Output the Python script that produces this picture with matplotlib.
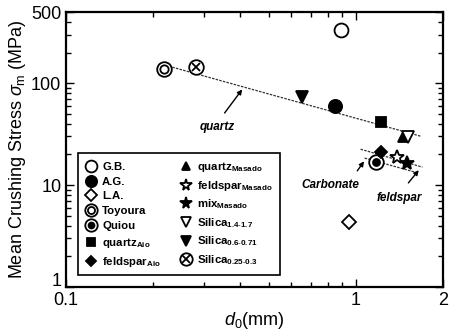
import matplotlib.pyplot as plt
import matplotlib.transforms as mtransforms
from matplotlib.legend_handler import HandlerTuple

plt.rcParams["font.family"] = ["Liberation Sans", "DejaVu Sans"]
plt.rcParams["mathtext.fontset"] = "custom"
plt.rcParams["mathtext.rm"] = "Liberation Sans"
plt.rcParams["mathtext.it"] = "Liberation Sans:italic"
plt.rcParams["mathtext.bf"] = "Liberation Sans:bold"

# данные: d0 (мм), sigma_m (МПа)
gb_d, gb_s = [0.89], [330]
ag_d, ag_s = [0.846], [59.5]
la_d, la_s = [0.946], [4.3]
toyoura_d, toyoura_s = [0.218], [137]
quiou_d, quiou_s = [1.18], [16.8]
quartz_aio_d, quartz_aio_s = [1.22], [41.5]
feldspar_aio_d, feldspar_aio_s = [1.22], [21]
quartz_masado_d, quartz_masado_s = [1.46], [29.5]
feldspar_masado_d, feldspar_masado_s = [1.385], [18.8]
mix_masado_d, mix_masado_s = [1.50], [16.4]
silica_14_d, silica_14_s = [1.52], [29.8]
silica_06_d, silica_06_s = [0.651], [72.9]
silica_025_d, silica_025_s = [0.281], [143]

# линии трендов
quartz_line_d, quartz_line_s = [0.226, 1.675], [147, 30.2]
upper_line_d, upper_line_s = [1.04, 1.70], [22.5, 15.0]
lower_line_d, lower_line_s = [1.074, 1.65], [18.4, 13.1]

fig = plt.figure(figsize=(4.5, 3.34), dpi=100)
ax = fig.add_axes([0.147, 0.141, 0.837, 0.823])
ax.set_xscale("log")
ax.set_yscale("log")

dash = (0, (2, 1))
ax.plot(quartz_line_d, quartz_line_s, color="0.2", lw=0.9, linestyle=dash)
ax.plot(upper_line_d, upper_line_s, color="0.2", lw=0.9, linestyle=dash)
ax.plot(lower_line_d, lower_line_s, color="0.2", lw=0.9, linestyle=dash)

kw = dict(linestyle="none", color="black", markeredgewidth=1.3)
open_kw = dict(kw, markerfacecolor="white")

h_gb = ax.plot(gb_d, gb_s, "o", ms=10, **open_kw)[0]
h_ag = ax.plot(ag_d, ag_s, "o", ms=9.5, **kw)[0]
h_la = ax.plot(la_d, la_s, "D", ms=7, **open_kw)[0]
t1 = ax.plot(toyoura_d, toyoura_s, "o", ms=10.5, **open_kw)[0]
t2 = ax.plot(toyoura_d, toyoura_s, "o", ms=6, **open_kw)[0]
q1 = ax.plot(quiou_d, quiou_s, "o", ms=10.5, **open_kw)[0]
q2 = ax.plot(quiou_d, quiou_s, "o", ms=5, **kw)[0]
h_qa = ax.plot(quartz_aio_d, quartz_aio_s, "s", ms=7, **kw)[0]
h_fa = ax.plot(feldspar_aio_d, feldspar_aio_s, "D", ms=6.5, **kw)[0]
h_qm = ax.plot(quartz_masado_d, quartz_masado_s, "^", ms=7, **kw)[0]
h_fm = ax.plot(feldspar_masado_d, feldspar_masado_s, "*", ms=10, **open_kw)[0]
h_mix = ax.plot(mix_masado_d, mix_masado_s, "*", ms=10, **kw)[0]
h_s14 = ax.plot(silica_14_d, silica_14_s, "v", ms=8.5, **open_kw)[0]
h_s06 = ax.plot(silica_06_d, silica_06_s, "v", ms=8.5, **kw)[0]
s1 = ax.plot(silica_025_d, silica_025_s, "o", ms=10.5, **open_kw)[0]
s2 = ax.plot(silica_025_d, silica_025_s, "x", ms=6, **kw)[0]

# подписи со стрелками
arrow = dict(arrowstyle="-|>", lw=1.0, color="black", mutation_scale=7)
ax.annotate("", xy=(0.411, 91.4), xytext=(0.348, 48.5), arrowprops=arrow)
ax.text(0.332, 37, "quartz", style="italic", weight="bold", fontsize=8.5,
        ha="center", va="center")
ax.annotate("", xy=(1.083, 18.0), xytext=(1.0, 13.1), arrowprops=arrow)
ax.text(0.82, 10, "Carbonate", style="italic", weight="bold", fontsize=8.5,
        ha="center", va="center")
ax.annotate("", xy=(1.675, 14.7), xytext=(1.50, 10.0), arrowprops=arrow)
ax.text(1.41, 7.46, "feldspar", style="italic", weight="bold", fontsize=8.5,
        ha="center", va="center")

handles = [h_gb, h_ag, h_la, (t1, t2), (q1, q2), h_qa, h_fa,
           h_qm, h_fm, h_mix, h_s14, h_s06, (s1, s2)]
labels = ["G.B.", "A.G.", "L.A.", "Toyoura", "Quiou",
          r"quartz$_{\mathbf{Aio}}$", r"feldspar$_{\mathbf{Aio}}$",
          r"quartz$_{\mathbf{Masado}}$", r"feldspar$_{\mathbf{Masado}}$",
          r"mix$_{\mathbf{Masado}}$", r"Silica$_{\mathbf{1.4\text{-}1.7}}$",
          r"Silica$_{\mathbf{0.6\text{-}0.71}}$", r"Silica$_{\mathbf{0.25\text{-}0.3}}$"]
leg = ax.legend(handles, labels, ncol=2, loc="upper left",
                bbox_to_anchor=(0.032, 0.487), borderaxespad=0,
                handler_map={tuple: HandlerTuple(ndivide=1)},
                prop=dict(weight="bold", size=8.2), markerscale=0.85,
                handlelength=1.0, handletextpad=0.5, columnspacing=1.7,
                labelspacing=0.42, borderpad=0.6, fancybox=False,
                framealpha=1, edgecolor="black")
leg.get_frame().set_linewidth(1.2)

ax.set_xlim(0.1, 2)
ax.set_ylim(1, 500)
ax.set_xticks([0.1, 1, 2])
ax.set_xticklabels(["0.1", "1", "2"])
ax.set_yticks([1, 10, 100, 500])
ax.set_yticklabels(["1", "10", "100", "500"])
ax.tick_params(which="both", direction="in", top=True, right=True,
               labelsize=13, width=1)
ax.tick_params(which="major", length=6)
ax.tick_params(axis="x", which="major", pad=3.5)
ax.tick_params(which="minor", length=3.5)
for sp in ax.spines.values():
    sp.set_linewidth(1.6)

# немного поднимаем нижнюю подпись "1", чтобы не налезала на "0.1"
fig.canvas.draw()
lab1 = ax.get_yticklabels()[0]
lab1.set_transform(lab1.get_transform()
                   + mtransforms.ScaledTranslation(0, 5.5 / 72, fig.dpi_scale_trans))

ax.set_xlabel(r"$d_{\rm 0}$(mm)", fontsize=13, labelpad=1)
ax.set_ylabel(r"Mean Crushing Stress $\sigma_{\rm m}$ (MPa)", fontsize=13,
              labelpad=2)

fig.savefig("out.png", dpi=100)
